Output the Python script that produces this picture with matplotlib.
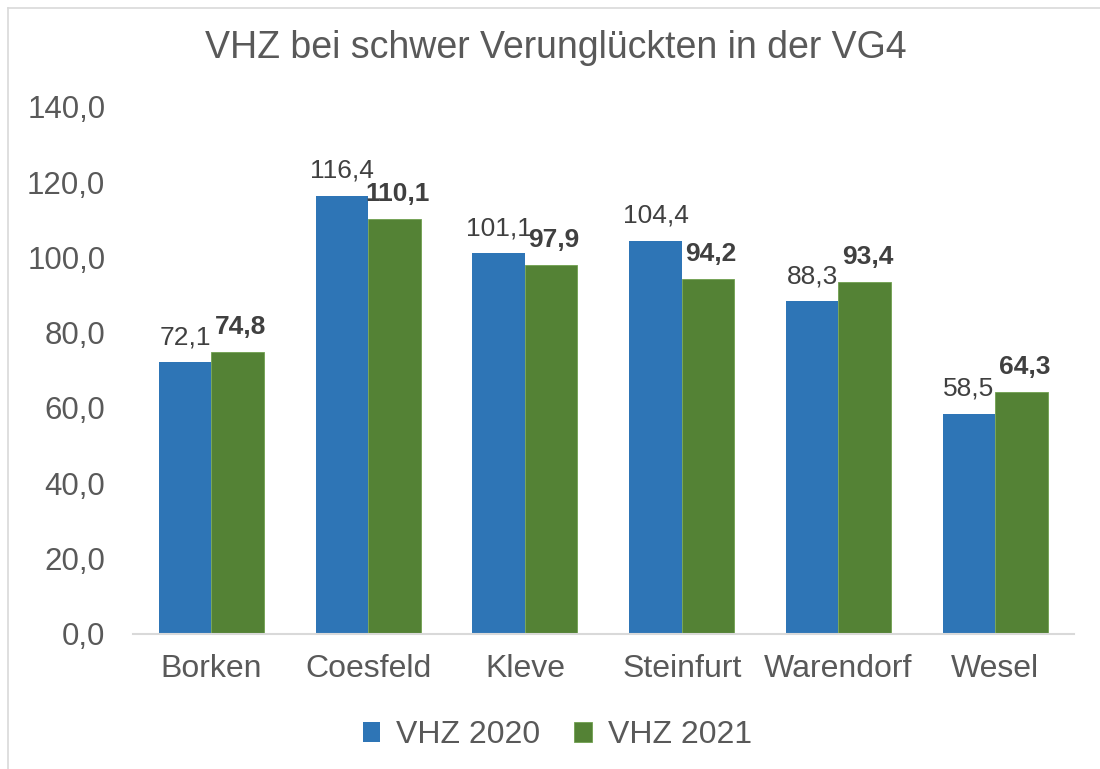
import matplotlib.pyplot as plt
import numpy as np
from matplotlib.lines import Line2D

plt.rcParams['font.family'] = ['Liberation Sans', 'DejaVu Sans']

# data
kreise = ["Borken", "Coesfeld", "Kleve", "Steinfurt", "Warendorf", "Wesel"]
vhz_2020 = [72.1, 116.4, 101.1, 104.4, 88.3, 58.5]
vhz_2021 = [74.8, 110.1, 97.9, 94.2, 93.4, 64.3]
yticks = [0, 20, 40, 60, 80, 100, 120, 140]

blue = "#2E75B6"
green = "#548235"
txt = "#595959"

def fmt(v):
    return f"{v:.1f}".replace(".", ",")

fig = plt.figure(figsize=(11, 7.69), dpi=100)
ax = fig.add_axes([0.121, 0.176, 0.855, 0.685])

x = np.arange(len(kreise))
w = 0.335
b1 = ax.bar(x - w / 2, vhz_2020, w, color=blue, label="VHZ 2020")
b2 = ax.bar(x + w / 2, vhz_2021, w, color=green, edgecolor="#70A04F", linewidth=0.6, label="VHZ 2021")

# labels: 2020 normal, 2021 bold
for xi, v in zip(x, vhz_2020):
    ax.annotate(fmt(v), (xi - w / 2, v), xytext=(0, 13), textcoords="offset points",
                ha="center", va="baseline", fontsize=19, color="#404040")
for xi, v in zip(x, vhz_2021):
    ax.annotate(fmt(v), (xi + w / 2, v), xytext=(2, 13), textcoords="offset points",
                ha="center", va="baseline", fontsize=19, color="#404040", fontweight="bold")

ax.set_xlim(-0.5, len(kreise) - 0.5)
ax.set_ylim(0, 140)
ax.set_yticks(yticks)
ax.set_yticklabels([fmt(t) for t in yticks], fontsize=22.5, color=txt)
ax.set_xticks(x)
ax.set_xticklabels(kreise, fontsize=23, color=txt)
ax.tick_params(length=0)
ax.tick_params(axis="x", pad=15)
ax.tick_params(axis="y", pad=20)
for s in ["top", "right", "left"]:
    ax.spines[s].set_visible(False)
ax.spines["bottom"].set_color("#D9D9D9")
ax.spines["bottom"].set_linewidth(1.5)

fig.text(0.505, 0.937, "VHZ bei schwer Verunglückten in der VG4", ha="center", va="center", fontsize=27, color=txt)

ax.legend(handles=[b1, b2], loc="center", bbox_to_anchor=(0.451, -0.193),
          ncol=2, frameon=False, fontsize=23, labelcolor=txt, handlelength=0.55, handleheight=0.55,
          columnspacing=1.05, handletextpad=0.5)

# light border top/left
fig.add_artist(Line2D([0.007, 1.0], [0.99, 0.99], transform=fig.transFigure, color="#D9D9D9", lw=1.2))
fig.add_artist(Line2D([0.007, 0.007], [0.0, 0.99], transform=fig.transFigure, color="#D9D9D9", lw=1.2))

fig.savefig("out.png", dpi=100)
